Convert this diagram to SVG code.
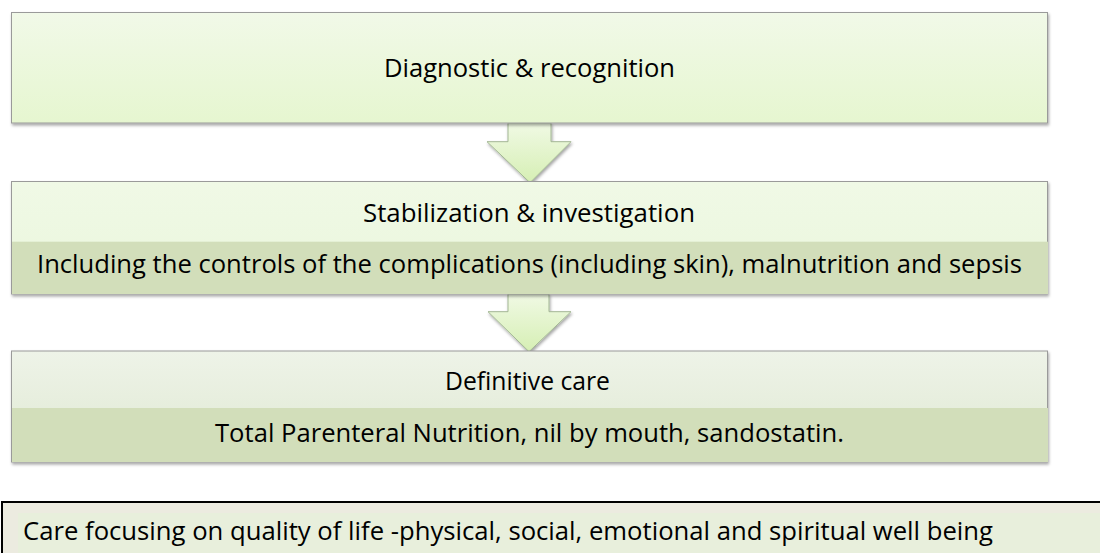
<svg xmlns="http://www.w3.org/2000/svg" width="1100" height="553" viewBox="0 0 1100 553">
  <defs>
    <linearGradient id="g1" x1="0" y1="0" x2="0" y2="1">
      <stop offset="0" stop-color="#F1F9E8"/>
      <stop offset="1" stop-color="#E6F6D0"/>
    </linearGradient>
    <linearGradient id="g2" x1="0" y1="0" x2="0" y2="1">
      <stop offset="0" stop-color="#F0F9E6"/>
      <stop offset="1" stop-color="#EAF6DC"/>
    </linearGradient>
    <linearGradient id="g3" x1="0" y1="0" x2="0" y2="1">
      <stop offset="0" stop-color="#EEF3E8"/>
      <stop offset="1" stop-color="#DFE9D2"/>
    </linearGradient>
    <linearGradient id="ga" x1="0" y1="0" x2="0" y2="1">
      <stop offset="0" stop-color="#F0F9E4"/>
      <stop offset="1" stop-color="#D6EFB4"/>
    </linearGradient>
    <filter id="sh" x="-5%" y="-10%" width="110%" height="130%">
      <feDropShadow dx="1" dy="2" stdDeviation="1.5" flood-color="#000" flood-opacity="0.35"/>
    </filter>
  </defs>
  <style>
    .box { stroke: #9A9A9A; stroke-width: 1; }
    .band { fill: #D2DEBA; }
    .arrow { fill: url(#ga); stroke: #A3B794; stroke-width: 1; }
    text { font-family: "Open Sans", "Liberation Sans", sans-serif; font-size: 25px; fill: #000; }
    .c { text-anchor: middle; }
  </style>

  <g id="connectors">
    <path class="arrow" filter="url(#sh)" d="M508,123 L551,123 L551,141.7 L571,141.7 L530,182.7 L487,141.7 L508,141.7 Z"/>
    <path class="arrow" filter="url(#sh)" d="M508,294 L549,294 L549,311.7 L571,311.7 L529,351.7 L488,311.7 L508,311.7 Z"/>
  </g>

  <g id="node-diagnostic">
    <rect class="box" x="11.5" y="12.5" width="1036" height="110.5" fill="url(#g1)" filter="url(#sh)"/>
    <text class="c" x="529.5" y="76.7" textLength="291" lengthAdjust="spacingAndGlyphs">Diagnostic &amp; recognition</text>
  </g>

  <g id="node-stabilization">
    <rect class="box" x="11.5" y="181.5" width="1036" height="112.5" fill="url(#g2)" filter="url(#sh)"/>
    <rect class="band" x="12" y="241.7" width="1036" height="52.3"/>
    <text class="c" x="529" y="221.7" textLength="332" lengthAdjust="spacingAndGlyphs">Stabilization &amp; investigation</text>
    <text class="c" x="529.5" y="273" textLength="985" lengthAdjust="spacingAndGlyphs">Including the controls of the complications (including skin), malnutrition and sepsis</text>
  </g>

  <g id="node-definitive">
    <rect class="box" x="11.5" y="351" width="1036" height="111" fill="url(#g3)" filter="url(#sh)"/>
    <rect class="band" x="12" y="408" width="1036" height="54"/>
    <text class="c" x="527.5" y="390" textLength="165" lengthAdjust="spacingAndGlyphs">Definitive care</text>
    <text class="c" x="529.5" y="441.7" textLength="629" lengthAdjust="spacingAndGlyphs">Total Parenteral Nutrition, nil by mouth, sandostatin.</text>
  </g>

  <g id="node-quality">
    <rect x="2" y="502" width="1100" height="60" fill="#ECEBE0" stroke="#000" stroke-width="2"/>
    <rect x="18" y="513" width="1082" height="40" fill="#E8EFDC"/>
    <text x="23" y="540" textLength="970" lengthAdjust="spacingAndGlyphs">Care focusing on quality of life -physical, social, emotional and spiritual well being</text>
  </g>
</svg>
